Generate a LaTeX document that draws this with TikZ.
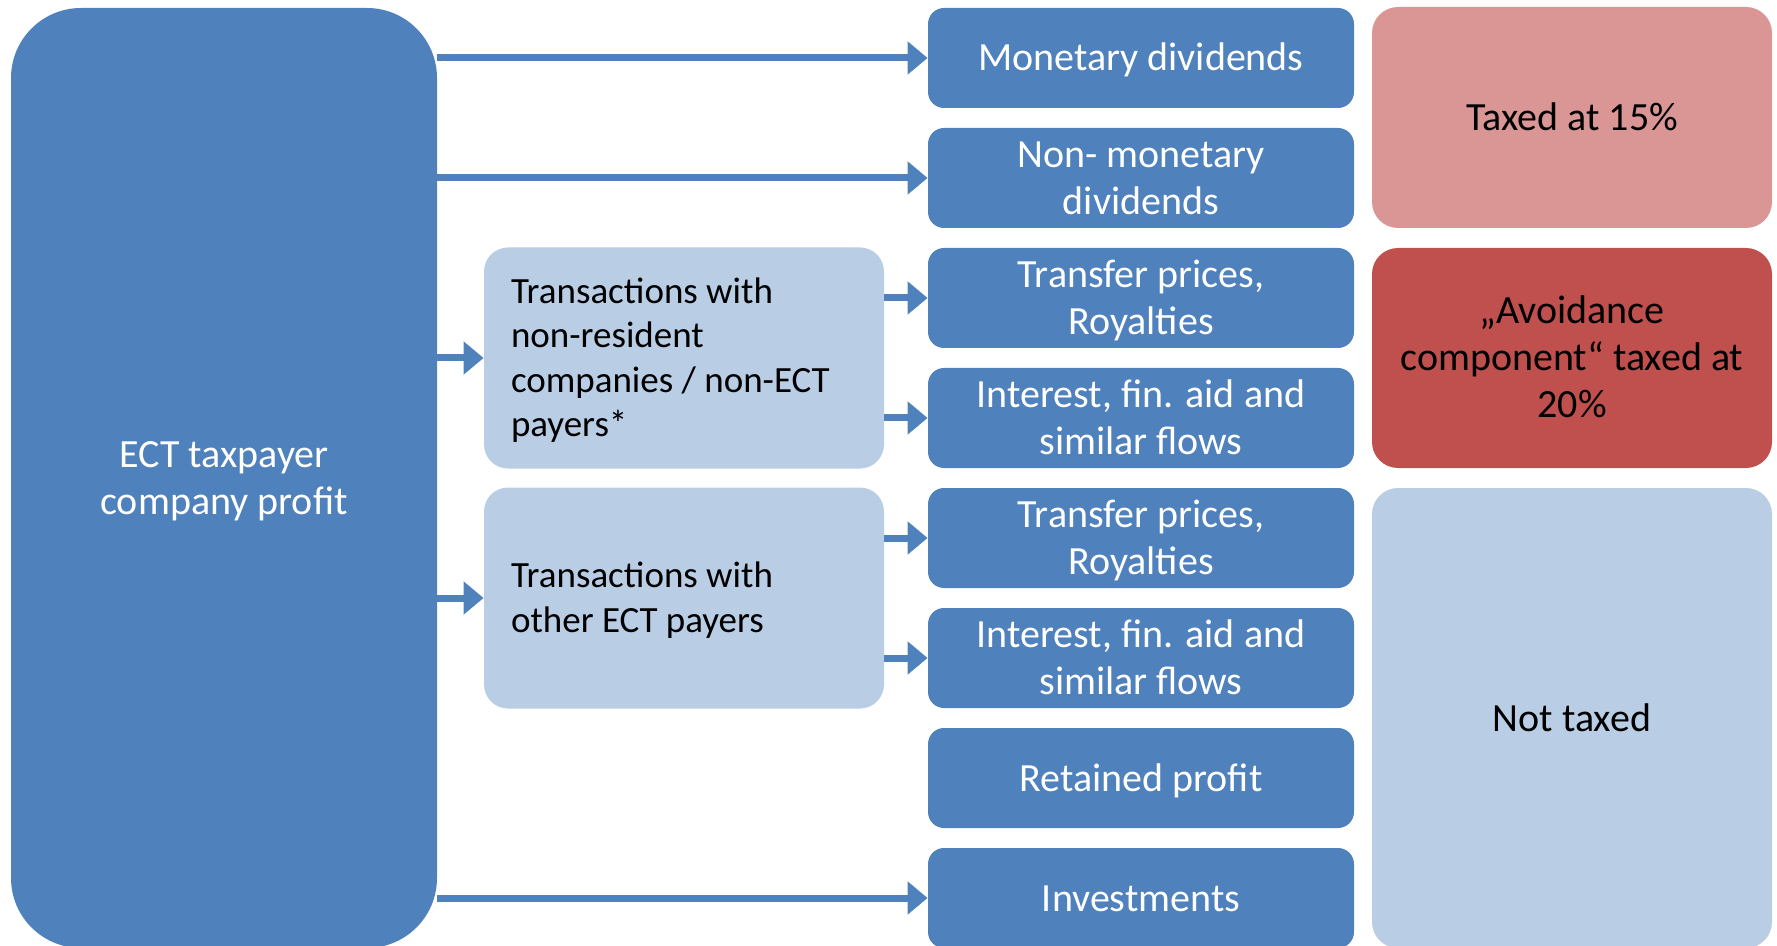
\documentclass[tikz,border=0pt]{standalone}
\usepackage{fontspec}
\setmainfont{Carlito}
\usetikzlibrary{arrows.meta}

\definecolor{ectblue}{HTML}{4F81BD}
\definecolor{paleblue}{HTML}{B9CDE5}
\definecolor{rosered}{HTML}{D99694}
\definecolor{darkred}{HTML}{C0504D}

\begin{document}
\begin{tikzpicture}[x=0.5pt,y=-0.5pt,>={Triangle[length=10pt,width=16pt]},
    every edge/.style={draw=ectblue,line width=3.5pt,->},
    struts/.style 2 args={execute at begin node={\rule{0pt}{#1}},execute at end node={\rule[-#2]{0pt}{#2}}},
    bigtext/.style={struts={18pt}{5pt},inner sep=0pt,align=flush center,font=\fontsize{20}{23.5}\selectfont},
    profitbox/.style={bigtext,fill=ectblue,text=white,rounded corners=35pt,text width=213pt,minimum height=470pt},
    flow/.style={bigtext,fill=ectblue,text=white,rounded corners=8pt,text width=213pt,minimum height=50pt},
    deal/.style={struts={17pt}{5pt},fill=paleblue,rounded corners=12pt,text width=173pt,inner xsep=13.5pt,inner ysep=0pt,minimum height=110.5pt,align=flush left,font=\fontsize{18.5}{22.3}\selectfont},
    rate/.style={bigtext,rounded corners=13pt,text width=200pt}]
            \clip (0,0) rectangle (1777,946);
            \node[profitbox](profit)at(224, 478){ECT taxpayer\\company profit};
            % middle column
            \node[flow](mondiv)at(1141, 58){Monetary dividends};
            \node[flow](nonmon)at(1141, 178){Non- monetary\\dividends};
            \node[flow](tpa)at(1141, 298){Transfer prices,\\Royalties};
            \node[flow](inta)at(1141, 418){Interest, fin. aid and\\similar flows};
            \node[flow](tpb)at(1141, 538){Transfer prices,\\Royalties};
            \node[flow](intb)at(1141, 658){Interest, fin. aid and\\similar flows};
            \node[flow](retained)at(1141, 778){Retained profit};
            \node[flow](invest)at(1141, 898){Investments};
            % transactions
            \node[deal](nonres)at(684, 358){Transactions with\\non-resident\\companies / non-ECT\\payers*};
            \node[deal](otherect)at(684, 598){Transactions with\\other ECT payers};
            % tax treatment
            \node[rate,fill=rosered,minimum height=110.5pt](taxed)at(1572, 117.5){Taxed at 15\%};
            \node[rate,fill=darkred,minimum height=110pt](avoid)at(1572, 358){„Avoidance\\component“ taxed at\\20\%};
            \node[rate,fill=paleblue,minimum height=230pt](untaxed)at(1572, 718){Not taxed};
            \path(profit.east |- mondiv) edge (mondiv)
            (profit.east |- nonmon) edge (nonmon)
            (profit.east |- nonres) edge (nonres)
            (profit.east |- otherect) edge (otherect)
            (profit.east |- invest) edge (invest)
            (nonres.east |- tpa) edge (tpa)
            (nonres.east |- inta) edge (inta)
            (otherect.east |- tpb) edge (tpb)
            (otherect.east |- intb) edge (intb);
        \end{tikzpicture}
\end{document}
